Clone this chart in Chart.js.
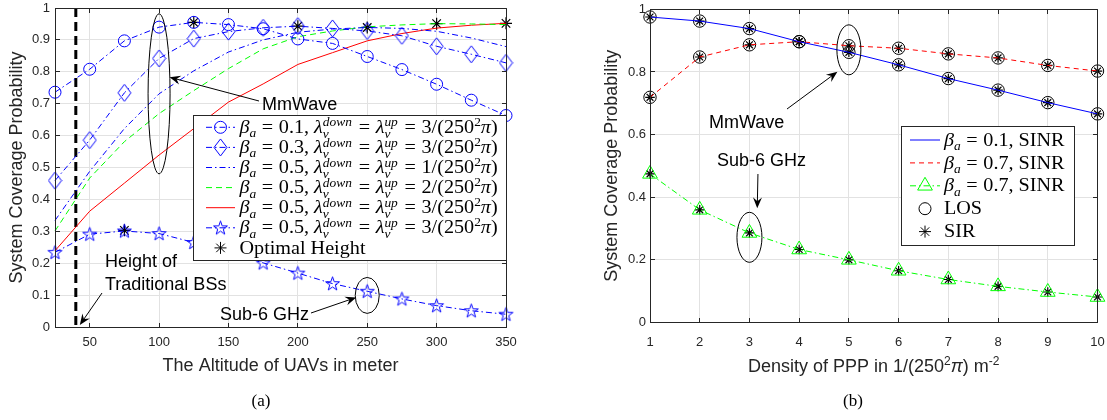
<!DOCTYPE html>
<html><head><meta charset="utf-8">
<script src="https://cdn.jsdelivr.net/npm/chart.js@4.4.0/dist/chart.umd.min.js"></script>
<style>
html,body{margin:0;padding:0;background:#fff;}
#wrap{position:relative;width:1107px;height:420px;overflow:hidden;background:#fff;}
canvas{position:absolute;top:0;}
</style></head><body>
<div id="wrap">
<canvas id="cA" width="550" height="420" style="left:0px"></canvas>
<canvas id="cB" width="557" height="420" style="left:550px"></canvas>
</div>
<script>
// ---------- data: chart (a) ----------
const altitude = [25,50,75,100,125,150,175,200,225,250,275,300,325,350];
const altTicks = [50,100,150,200,250,300,350];
const covTicksA = [0,0.1,0.2,0.3,0.4,0.5,0.6,0.7,0.8,0.9,1];
const mmB01L3 = [0.736,0.808,0.897,0.940,0.955,0.948,0.935,0.903,0.889,0.848,0.807,0.761,0.711,0.663];
const mmB03L3 = [0.459,0.586,0.734,0.842,0.904,0.926,0.938,0.943,0.936,0.928,0.913,0.880,0.855,0.828];
const mmB05L1 = [0.334,0.488,0.622,0.731,0.803,0.862,0.900,0.924,0.934,0.939,0.936,0.927,0.906,0.879];
const mmB05L2 = [0.301,0.467,0.581,0.669,0.741,0.810,0.872,0.910,0.928,0.941,0.947,0.951,0.950,0.948];
const mmB05L3 = [0.239,0.363,0.451,0.539,0.622,0.705,0.762,0.823,0.860,0.897,0.920,0.937,0.946,0.952];
const subB05L3 = [0.234,0.291,0.301,0.293,0.265,0.235,0.201,0.169,0.136,0.112,0.088,0.067,0.051,0.040];
const optAlt = [125,200,250,300,350,75];
const optCov = [0.955,0.943,0.939,0.951,0.952,0.303];
const bsHeight = 40;
const bsLineCov = [1,0];
// ---------- data: chart (b) ----------
const density = [1,2,3,4,5,6,7,8,9,10];
const covTicksB = [0,0.2,0.4,0.6,0.8,1];
const sinrB01 = [0.976,0.963,0.939,0.897,0.863,0.823,0.779,0.742,0.702,0.666];
const sinrB07 = [0.719,0.848,0.887,0.897,0.884,0.876,0.858,0.845,0.821,0.803];
const sinrB07Sub6 = [0.474,0.359,0.285,0.232,0.199,0.164,0.136,0.114,0.096,0.080];

// ---------- styles ----------
const BLUE='#0000ff', GREEN='#00ff00', RED='#ff0000', AX='#262626', GRID='#e2e2e2';
const DD=[6,3,1.5,3], DA=[6,4];
const SANS='"Liberation Sans", Arial, Helvetica, sans-serif';
const SERIF='"Liberation Serif", "Times New Roman", serif';
const pts = (xs, ys) => xs.map((x,i)=>({x, y:ys[i]}));
const align = v => Math.round(v-0.5)+0.5;

function mkCanvas(w,h,draw){const c=document.createElement('canvas');c.width=w;c.height=h;draw(c.getContext('2d'));return c;}
const pentaImg = mkCanvas(17,17,g=>{g.strokeStyle=BLUE;g.lineWidth=1;g.beginPath();
  for(let k=0;k<10;k++){const r=k%2?2.9:7.3;const an=-Math.PI/2+k*Math.PI/5;const px=8.5+r*Math.cos(an),py=9+r*Math.sin(an);k?g.lineTo(px,py):g.moveTo(px,py);}
  g.closePath();g.stroke();});
const diamImg = mkCanvas(15,19,g=>{g.strokeStyle=BLUE;g.lineWidth=1;g.beginPath();
  g.moveTo(7.5,1);g.lineTo(14,9.5);g.lineTo(7.5,18);g.lineTo(1,9.5);g.closePath();g.stroke();});

function marker(ctx, kind, x, y, color){
  ctx.save(); ctx.setLineDash([]); ctx.strokeStyle=color; ctx.lineWidth=1;
  if(kind==='circle'){ctx.beginPath();ctx.arc(x,y,6,0,2*Math.PI);ctx.stroke();}
  else if(kind==='star'){const r=6;ctx.beginPath();for(let k=0;k<4;k++){const an=k*Math.PI/4;ctx.moveTo(x+r*Math.cos(an),y+r*Math.sin(an));ctx.lineTo(x-r*Math.cos(an),y-r*Math.sin(an));}ctx.stroke();}
  else if(kind==='triangle'){const r=8.5;ctx.beginPath();for(let k=0;k<3;k++){const an=k*2*Math.PI/3;const px=x+r*Math.sin(an),py=y-r*Math.cos(an);k?ctx.lineTo(px,py):ctx.moveTo(px,py);}ctx.closePath();ctx.stroke();}
  else if(kind && kind.getContext){ctx.drawImage(kind,x-kind.width/2,y-kind.height/2);}
  ctx.restore();
}

function rich(ctx, parts, x, y, size, fam, sx, al){
  const sm=Math.round(size*0.68); const items=[]; let cx=0;
  for(const p of parts){
    if(p.g){cx+=p.g;continue;}
    if(p.st){const f=`italic ${sm}px ${fam}`;ctx.font=f;
      const w=Math.max(ctx.measureText(p.st[0]).width,ctx.measureText(p.st[1]).width);
      items.push({t:p.st[0],f,x:cx,dy:-size*0.36});items.push({t:p.st[1],f,x:cx,dy:size*0.26});cx+=w+1;continue;}
    const sz=p.s?sm:size; const f=`${p.i?'italic ':''}${sz}px ${fam}`; ctx.font=f;
    const dy=p.s==='sup'?-size*0.4:(p.s==='sub'?size*0.24:0);
    items.push({t:p.t,f,x:cx,dy}); cx+=ctx.measureText(p.t).width;
  }
  const tot=cx*sx; const x0=al==='center'?x-tot/2:x;
  ctx.save();ctx.translate(x0,y);ctx.scale(sx,1);ctx.textAlign='left';ctx.textBaseline='alphabetic';
  for(const it of items){ctx.font=it.f;ctx.fillText(it.t,it.x,it.dy);}
  ctx.restore(); return tot;
}
const EQ=[{g:5},{t:'='},{g:5}];
function labA(b,l){return [{t:'β',i:1},{t:'a',i:1,s:'sub'},...EQ,{t:b+', '},{t:'λ',i:1},{st:['down','v']},...EQ,{t:'λ',i:1},{st:['up','v']},...EQ,{t:l+'/(250'},{t:'2',s:'sup'},{t:'π',i:1},{t:')'}];}
function labB(b){return [{t:'β',i:1},{t:'a',i:1,s:'sub'},...EQ,{t:b+', SINR'}];}

const legendA=[
 {c:BLUE,d:DD,m:'circle',l:labA('0.1','3')},
 {c:BLUE,d:DD,m:diamImg,l:labA('0.3','3')},
 {c:BLUE,d:DD,m:null,l:labA('0.5','1')},
 {c:GREEN,d:DA,m:null,l:labA('0.5','2')},
 {c:RED,d:[],m:null,l:labA('0.5','3')},
 {c:BLUE,d:DD,m:pentaImg,l:labA('0.5','3')},
 {c:null,m:'star',mc:'#000',l:[{t:'Optimal Height'}]}
];
const legendB=[
 {c:BLUE,d:[],m:null,l:labB('0.1')},
 {c:RED,d:[5,4],m:null,l:labB('0.7')},
 {c:GREEN,d:DD,m:'triangle',mc:GREEN,l:labB('0.7')},
 {c:null,m:'circle',mc:'#000',l:[{t:'LOS'}]},
 {c:null,m:'star',mc:'#000',l:[{t:'SIR'}]}
];

function drawLegend(ctx, items, bx0, by0, bx1, by1, rowY0, dy, lx0, lx1, tx, fs, sx){
  ctx.save(); ctx.setLineDash([]);
  ctx.fillStyle='#fff'; ctx.fillRect(bx0,by0,bx1-bx0,by1-by0);
  ctx.strokeStyle=AX; ctx.lineWidth=1; ctx.strokeRect(align(bx0),align(by0),Math.round(bx1-bx0),Math.round(by1-by0));
  items.forEach((it,i)=>{
    const y=rowY0+i*dy;
    if(it.c){ctx.save();ctx.strokeStyle=it.c;ctx.lineWidth=1;ctx.setLineDash(it.d);ctx.beginPath();ctx.moveTo(lx0,y);ctx.lineTo(lx1,y);ctx.stroke();ctx.restore();}
    if(it.m) marker(ctx,it.m,(lx0+lx1)/2,y,it.mc||it.c);
    ctx.fillStyle='#000'; rich(ctx,it.l,tx,y+5.6,fs,SERIF,sx,'left');
  });
  ctx.restore();
}

function drawBox(ctx,a,xs,ys,xt,yt){
  ctx.save(); ctx.setLineDash([]); ctx.strokeStyle=AX; ctx.lineWidth=1;
  const L=align(a.left),R=align(a.right),T=align(a.top),B=align(a.bottom);
  ctx.beginPath(); ctx.moveTo(L,B);ctx.lineTo(L,T);ctx.lineTo(R,T);ctx.lineTo(R,B);ctx.lineTo(L,B);
  for(const v of xt){const p=align(xs.getPixelForValue(v));ctx.moveTo(p,B);ctx.lineTo(p,B-4.5);ctx.moveTo(p,T);ctx.lineTo(p,T+4.5);}
  for(const v of yt){const p=align(ys.getPixelForValue(v));ctx.moveTo(L,p);ctx.lineTo(L+4.5,p);ctx.moveTo(R,p);ctx.lineTo(R-4.5,p);}
  ctx.stroke(); ctx.restore();
}
function ellipse(ctx,cx,cy,rx,ry){ctx.beginPath();ctx.ellipse(cx,cy,rx,ry,0,0,2*Math.PI);ctx.stroke();}
function arrow(ctx,x1,y1,x2,y2){
  const h=11,w=4.5,a=Math.atan2(y2-y1,x2-x1),c=Math.cos(a),s=Math.sin(a);
  ctx.beginPath();ctx.moveTo(x1,y1);ctx.lineTo(x2-h*0.6*c,y2-h*0.6*s);ctx.stroke();
  ctx.beginPath();ctx.moveTo(x2,y2);ctx.lineTo(x2-h*c+w*s,y2-h*s-w*c);ctx.lineTo(x2-h*0.65*c,y2-h*0.65*s);ctx.lineTo(x2-h*c-w*s,y2-h*s+w*c);ctx.closePath();ctx.fill();
}
function txt(ctx,t,x,y,size,fam,al,col){ctx.save();ctx.font=`${size}px ${fam}`;ctx.fillStyle=col||'#000';ctx.textAlign=al||'left';ctx.textBaseline='middle';ctx.fillText(t,x,y);ctx.restore();}

function scaleOpts(ticksArr, min, max, fitSize, pad, fmt){
  return {type:'linear',min,max,
    afterBuildTicks:s=>{s.ticks=ticksArr.map(v=>({value:v}));},
    afterFit:s=>{ if(s.isHorizontal()) s.height=fitSize; else s.width=fitSize; s.paddingTop=0;s.paddingBottom=0;s.paddingLeft=0;s.paddingRight=0;},
    grid:{color:GRID,lineWidth:1,drawTicks:false},
    border:{color:AX,width:1},
    ticks:{color:AX,font:{family:SANS,size:13},padding:pad,maxRotation:0,autoSkip:false,callback:fmt||(v=>String(+(+v).toFixed(2)))}
  };
}
const common = {responsive:false,animation:false,events:[],
  plugins:{legend:{display:false},tooltip:{enabled:false}}};

// ---------- chart (a) ----------
const decorA={id:'decorA',
  afterDatasetsDraw(chart){
    const ctx=chart.ctx,a=chart.chartArea,xs=chart.scales.x,ys=chart.scales.y;
    drawBox(ctx,a,xs,ys,altTicks,covTicksA);
    ctx.save();ctx.strokeStyle='#000';ctx.fillStyle='#000';ctx.lineWidth=1;ctx.setLineDash([]);
    const ex=xs.getPixelForValue(100), ey=ys.getPixelForValue(0.731);
    ellipse(ctx,ex,ey,11,80);
    arrow(ctx,259,101,ex+10.5,ys.getPixelForValue(0.783));
    txt(ctx,'MmWave',262,105,18,SANS);
    txt(ctx,'Height of',105,262,18,SANS);
    txt(ctx,'Traditional BSs',105,285,18,SANS);
    arrow(ctx,102,293,xs.getPixelForValue(bsHeight)+4,ys.getPixelForValue(0)-2);
    const sx=xs.getPixelForValue(250), sy=ys.getPixelForValue(0.099);
    ellipse(ctx,sx,sy,12,18);
    txt(ctx,'Sub-6 GHz',220,315,18,SANS);
    arrow(ctx,311,313,sx-11,sy+2);
    ctx.restore();
    drawLegend(ctx,legendA,193,115,a.right,260,127.3,20.1,206,235,239.5,18,1.12);
  },
  afterDraw(chart){
    const ctx=chart.ctx,a=chart.chartArea;
    ctx.save();ctx.translate(17,(a.top+a.bottom)/2);ctx.rotate(-Math.PI/2);
    txt(ctx,'System Coverage Probability',0,0,18,SANS,'center',AX);ctx.restore();
    txt(ctx,'The Altitude of UAVs in meter',(a.left+a.right)/2,366,18,SANS,'center',AX);
    txt(ctx,'(a)',261,402,17,SERIF,'center','#000');
  }};
new Chart(document.getElementById('cA'),{type:'line',
  data:{datasets:[
    {data:pts(altitude,mmB01L3),borderColor:BLUE,borderWidth:1,borderDash:DD,pointStyle:'circle',pointRadius:6,pointBorderColor:BLUE,pointBackgroundColor:'rgba(0,0,0,0)',pointBorderWidth:1,clip:false},
    {data:pts(altitude,mmB03L3),borderColor:BLUE,borderWidth:1,borderDash:DD,pointStyle:diamImg,pointRadius:7,clip:false},
    {data:pts(altitude,mmB05L1),borderColor:BLUE,borderWidth:1,borderDash:DD,pointRadius:0,clip:false},
    {data:pts(altitude,mmB05L2),borderColor:GREEN,borderWidth:1,borderDash:DA,pointRadius:0,clip:false},
    {data:pts(altitude,mmB05L3),borderColor:RED,borderWidth:1,pointRadius:0,clip:false},
    {data:pts(altitude,subB05L3),borderColor:BLUE,borderWidth:1,borderDash:DD,pointStyle:pentaImg,pointRadius:7,clip:false},
    {data:pts([bsHeight,bsHeight],bsLineCov),borderColor:'#000',borderWidth:3,borderDash:[9,5],pointRadius:0,clip:false},
    {data:pts(optAlt,optCov),showLine:false,pointStyle:'star',pointRadius:6,pointBorderColor:'#000',pointBorderWidth:1.2,clip:false}
  ]},
  options:{...common,
    layout:{padding:{left:0,top:5,right:44,bottom:0}},
    scales:{x:scaleOpts(altTicks,25,350,93,8),y:scaleOpts(covTicksA,0,1,55,5)}},
  plugins:[decorA]});

// ---------- chart (b) ----------
const decorB={id:'decorB',
  afterDatasetsDraw(chart){
    const ctx=chart.ctx,a=chart.chartArea,xs=chart.scales.x,ys=chart.scales.y;
    drawBox(ctx,a,xs,ys,density,covTicksB);
    ctx.save();ctx.strokeStyle='#000';ctx.fillStyle='#000';ctx.lineWidth=1;ctx.setLineDash([]);
    const mx=xs.getPixelForValue(5), my=ys.getPixelForValue(0.871);
    ellipse(ctx,mx,my,12,25);
    arrow(ctx,237,109,mx-11.5,my+22);
    txt(ctx,'MmWave',159,123,18,SANS);
    const sx=xs.getPixelForValue(3), sy=ys.getPixelForValue(0.271);
    ellipse(ctx,sx,sy,12.5,25);
    txt(ctx,'Sub-6 GHz',167,161,18,SANS);
    arrow(ctx,sx+8.5,174,sx+7.8,sy-29);
    ctx.restore();
    drawLegend(ctx,legendB,351.7,126.7,a.right-22.7,246,140,22.9,360,390,394,18,1.12);
  },
  afterDraw(chart){
    const ctx=chart.ctx,a=chart.chartArea;
    ctx.save();ctx.translate(62,(a.top+a.bottom)/2);ctx.rotate(-Math.PI/2);
    txt(ctx,'System Coverage Probability',0,0,18,SANS,'center',AX);ctx.restore();
    ctx.save();ctx.fillStyle=AX;
    rich(ctx,[{t:'Density of PPP in 1/(250'},{t:'2',s:'sup'},{t:'π',i:1},{t:') m'},{t:'-2',s:'sup'}],(a.left+a.right)/2,372,18,SANS,1,'center');
    ctx.restore();
    txt(ctx,'(b)',303,402,17,SERIF,'center','#000');
  }};
new Chart(document.getElementById('cB'),{type:'line',
  data:{datasets:[
    {data:pts(density,sinrB01),borderColor:BLUE,borderWidth:1,pointRadius:0,clip:false},
    {data:pts(density,sinrB07),borderColor:RED,borderWidth:1,borderDash:[5,4],pointRadius:0,clip:false},
    {data:pts(density,sinrB07Sub6),borderColor:GREEN,borderWidth:1,borderDash:DD,pointStyle:'triangle',pointRadius:8.5,pointBorderColor:GREEN,pointBackgroundColor:'rgba(0,0,0,0)',pointBorderWidth:1,clip:false},
    {data:pts(density,sinrB01).concat(pts(density,sinrB07)),showLine:false,pointStyle:'circle',pointRadius:6.2,pointBorderColor:'#000',pointBackgroundColor:'rgba(0,0,0,0)',pointBorderWidth:1,clip:false},
    {data:pts(density,sinrB01).concat(pts(density,sinrB07),pts(density,sinrB07Sub6)),showLine:false,pointStyle:'star',pointRadius:4.8,pointBorderColor:'#000',pointBorderWidth:1.2,clip:false}
  ]},
  options:{...common,
    layout:{padding:{left:0,top:5,right:7,bottom:0}},
    scales:{x:scaleOpts(density,1,10,98,13,v=>String(v)),y:scaleOpts(covTicksB,0,1,100,4)}},
  plugins:[decorB]});
</script></body></html>
